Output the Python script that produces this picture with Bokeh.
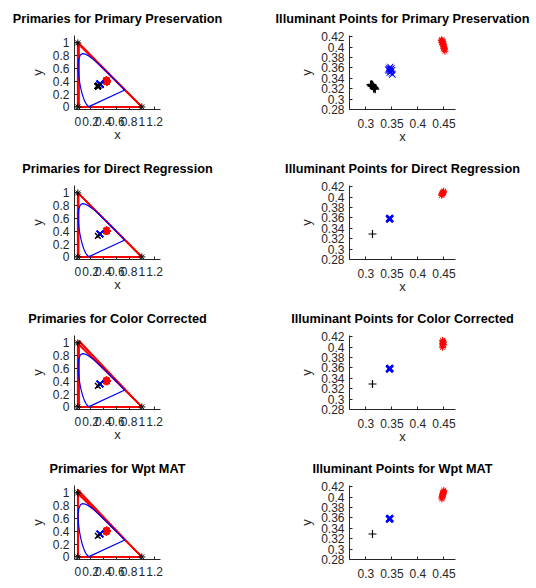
from bokeh.plotting import figure
from bokeh.layouts import gridplot
from bokeh.models import FixedTicker, Range1d
from bokeh.embed import file_html
from bokeh.resources import INLINE

FONT = "Liberation Sans"
TXT = "#262626"

methods = ["Primary Preservation", "Direct Regression", "Color Corrected", "Wpt MAT"]

# CIE 1931 spectral locus (x, y), closed by the purple line
locus_x = [0.1741, 0.1733, 0.1714, 0.1689, 0.1644, 0.1566, 0.1440, 0.1241, 0.1096, 0.0913,
           0.0687, 0.0454, 0.0235, 0.0082, 0.0039, 0.0139, 0.0389, 0.0743, 0.1142, 0.1547,
           0.2296, 0.3016, 0.3731, 0.4441, 0.5125, 0.5752, 0.6270, 0.6658, 0.6915, 0.7190,
           0.7300, 0.7347, 0.1741]
locus_y = [0.0050, 0.0048, 0.0051, 0.0069, 0.0109, 0.0177, 0.0297, 0.0578, 0.0868, 0.1327,
           0.2007, 0.2950, 0.4127, 0.5384, 0.6548, 0.7502, 0.8120, 0.8338, 0.8262, 0.8059,
           0.7543, 0.6923, 0.6245, 0.5547, 0.4866, 0.4242, 0.3725, 0.3340, 0.3083, 0.2809,
           0.2700, 0.2653, 0.0050]

# reference primaries (black asterisks)
ref_prim_x = [1.0, 0.0, 0.0]
ref_prim_y = [0.0, 1.0, 0.0]

# estimated primaries per method (red triangles): R, G, B vertices
red_x = [[1.0, 0.995, 1.005, 1.0, 0.995, 1.005],
         [1.0, 0.995, 1.005, 1.0, 0.99],
         [1.0, 0.995, 1.005, 1.0, 0.995, 1.005],
         [1.0, 1.005, 0.995, 1.0, 1.01, 0.99]]
red_y = [[0.0, 0.005, -0.005, 0.0, 0.0, 0.005],
         [0.0, 0.0, 0.005, -0.005, 0.0],
         [0.0, 0.005, -0.005, 0.0, 0.005, 0.0],
         [0.0, 0.0, 0.005, -0.005, 0.0, 0.005]]
green_x = [[0.0, 0.015, -0.005, 0.01, 0.02, 0.0],
           [0.0, 0.01, -0.005, 0.015, 0.005],
           [0.0, 0.015, -0.005, 0.02, 0.01, 0.015],
           [0.0, 0.005, 0.0, -0.005, 0.005, 0.0]]
green_y = [[1.0, 0.99, 1.01, 0.98, 0.97, 1.02],
           [1.0, 0.99, 1.01, 0.985, 1.0],
           [1.0, 1.02, 0.99, 1.04, 0.98, 1.03],
           [1.0, 1.02, 1.04, 1.06, 0.98, 1.05]]
blue_x = [[0.0, 0.015, -0.005, 0.01, 0.02, 0.005],
          [0.0, 0.01, -0.005, 0.015, 0.005],
          [0.0, 0.015, -0.005, 0.02, 0.01, 0.015],
          [0.0, 0.005, -0.005, 0.0, 0.005, 0.0]]
blue_y = [[0.0, 0.0, 0.01, -0.005, 0.005, 0.0],
          [0.0, 0.005, 0.0, -0.005, 0.0],
          [0.0, 0.005, 0.0, 0.0, -0.005, 0.005],
          [0.0, 0.0, 0.005, 0.0, -0.005, 0.0]]

# illuminant points: black '+' (D65 estimates), blue 'x' (D50), red '*' (A)
d65_x = [[0.309, 0.310, 0.311, 0.312, 0.311, 0.313, 0.314, 0.315, 0.316, 0.317, 0.313, 0.315, 0.318, 0.312],
         [0.3127], [0.3127], [0.3127]]
d65_y = [[0.328, 0.327, 0.3285, 0.326, 0.325, 0.327, 0.324, 0.323, 0.322, 0.321, 0.3255, 0.320, 0.319, 0.3275],
         [0.3290], [0.3290], [0.3290]]
d50_x = [[0.343, 0.345, 0.347, 0.349, 0.351, 0.346, 0.348, 0.350, 0.344, 0.347, 0.349, 0.346, 0.348, 0.351, 0.345],
         [0.3452, 0.3457, 0.3462, 0.3455, 0.3460],
         [0.3450, 0.3457, 0.3463, 0.3454, 0.3460],
         [0.3451, 0.3457, 0.3462, 0.3455, 0.3459]]
d50_y = [[0.357, 0.360, 0.362, 0.359, 0.356, 0.354, 0.352, 0.349, 0.355, 0.357, 0.355, 0.351, 0.358, 0.347, 0.358],
         [0.3580, 0.3585, 0.3590, 0.3592, 0.3578],
         [0.3578, 0.3585, 0.3592, 0.3590, 0.3580],
         [0.3579, 0.3585, 0.3591, 0.3590, 0.3578]]
a_x = [[0.445, 0.446, 0.447, 0.446, 0.447, 0.448, 0.448, 0.449, 0.449, 0.450, 0.450, 0.451, 0.452, 0.447, 0.449, 0.451],
       [0.4455, 0.4462, 0.4470, 0.4478, 0.4485, 0.4490, 0.4495, 0.4468, 0.4480],
       [0.4475, 0.4480, 0.4485, 0.4478, 0.4483, 0.4488, 0.4480, 0.4476, 0.4486],
       [0.4460, 0.4465, 0.4470, 0.4474, 0.4480, 0.4485, 0.4490, 0.4495, 0.4498, 0.4478]]
a_y = [[0.413, 0.414, 0.411, 0.409, 0.408, 0.410, 0.405, 0.406, 0.402, 0.400, 0.397, 0.395, 0.392, 0.412, 0.404, 0.398],
       [0.4035, 0.4048, 0.4060, 0.4075, 0.4090, 0.4102, 0.4115, 0.4070, 0.4082],
       [0.3995, 0.4020, 0.4045, 0.4065, 0.4085, 0.4100, 0.4115, 0.4130, 0.4055],
       [0.3965, 0.3990, 0.4010, 0.4030, 0.4050, 0.4070, 0.4090, 0.4110, 0.4130, 0.4060]]

left_xticks = [0, 0.2, 0.4, 0.6, 0.8, 1, 1.2]
left_xlabels = ["0", "0.2", "0.4", "0.6", "0.8", "1", "1.2"]
left_yticks = [0, 0.2, 0.4, 0.6, 0.8, 1]
left_ylabels = ["0", "0.2", "0.4", "0.6", "0.8", "1"]
right_xticks = [0.3, 0.35, 0.4, 0.45]
right_xlabels = ["0.3", "0.35", "0.4", "0.45"]
right_yticks = [0.28, 0.3, 0.32, 0.34, 0.36, 0.38, 0.4, 0.42]
right_ylabels = ["0.28", "0.3", "0.32", "0.34", "0.36", "0.38", "0.4", "0.42"]


def style(p, xt, xl, yt, yl, last, xstand, xlstand, ylstand):
    p.outline_line_color = None
    p.xgrid.visible = False
    p.ygrid.visible = False
    p.title.text_font = FONT
    p.title.text_font_size = "12.7px"
    p.title.text_font_style = "bold"
    p.title.text_color = "black"
    p.title.align = "center"
    p.title.standoff = 19
    for ax, t, l in ((p.xaxis[0], xt, xl), (p.yaxis[0], yt, yl)):
        ax.ticker = FixedTicker(ticks=t)
        ax.major_label_overrides = dict(zip(t, l))
        ax.minor_tick_line_color = None
        ax.major_tick_in = 3
        ax.major_tick_out = 0
        ax.axis_line_color = TXT
        ax.major_tick_line_color = TXT
        ax.major_label_text_font = FONT
        ax.major_label_text_font_size = "12px"
        ax.major_label_text_color = TXT
        ax.axis_label_text_font = FONT
        ax.axis_label_text_font_size = "13px"
        ax.axis_label_text_font_style = "normal"
        ax.axis_label_text_color = TXT
    p.xaxis[0].major_label_standoff = xstand
    p.yaxis[0].major_label_standoff = 5
    p.yaxis[0].axis_label = "y"
    p.xaxis[0].axis_label = None if last else "x"
    p.xaxis[0].axis_label_standoff = xlstand
    p.yaxis[0].axis_label_standoff = ylstand


def make_left(i, h, last):
    p = figure(width=268, height=h, x_range=Range1d(-0.052, 1.292), y_range=Range1d(-0.04, 1.116),
               output_backend="svg", toolbar_location=None, title="Primaries for " + methods[i],
               min_border_left=74, min_border_right=108, min_border_top=35, min_border_bottom=h - 109)
    style(p, left_xticks, left_xlabels, left_yticks, left_ylabels, last, 7, -2, 5)
    xs = [[r, g, b, r] for r, g, b in zip(red_x[i], green_x[i], blue_x[i])]
    ys = [[r, g, b, r] for r, g, b in zip(red_y[i], green_y[i], blue_y[i])]
    p.multi_line(xs, ys, line_color="red", line_width=1.3)
    p.line(locus_x, locus_y, line_color="blue", line_width=1.2)
    p.scatter(ref_prim_x, ref_prim_y, marker="asterisk", size=7, line_color="black", line_width=1)
    p.scatter(a_x[i], a_y[i], marker="asterisk", size=8, line_color="red", line_width=1.5)
    p.scatter(d50_x[i], d50_y[i], marker="x", size=9, line_color="blue", line_width=1.5)
    p.scatter(d65_x[i], d65_y[i], marker="x", size=8, line_color="black", line_width=1.5)
    return p


def make_right(i, h, last):
    p = figure(width=268, height=h, x_range=Range1d(0.2685, 0.4723), y_range=Range1d(0.28, 0.4223),
               output_backend="svg", toolbar_location=None, title="Illuminant Points for " + methods[i],
               min_border_left=81, min_border_right=81, min_border_top=35, min_border_bottom=h - 109)
    style(p, right_xticks, right_xlabels, right_yticks, right_ylabels, last, 9, -2, 4)
    p.scatter(d65_x[i], d65_y[i], marker="cross", size=8, line_color="black", line_width=1.2)
    lw = 1 if i == 0 else 2
    p.scatter(d50_x[i], d50_y[i], marker="x", size=9, line_color="blue", line_width=lw)
    p.scatter(a_x[i], a_y[i], marker="asterisk", size=7, line_color="red", line_width=1)
    return p


rows = []
for i in range(4):
    last = i == 3
    h = 138 if last else 150
    rows.append([make_left(i, h, last), make_right(i, h, last)])

grid = gridplot(rows, toolbar_location=None)
open("out.html", "w").write(file_html(grid, INLINE))
